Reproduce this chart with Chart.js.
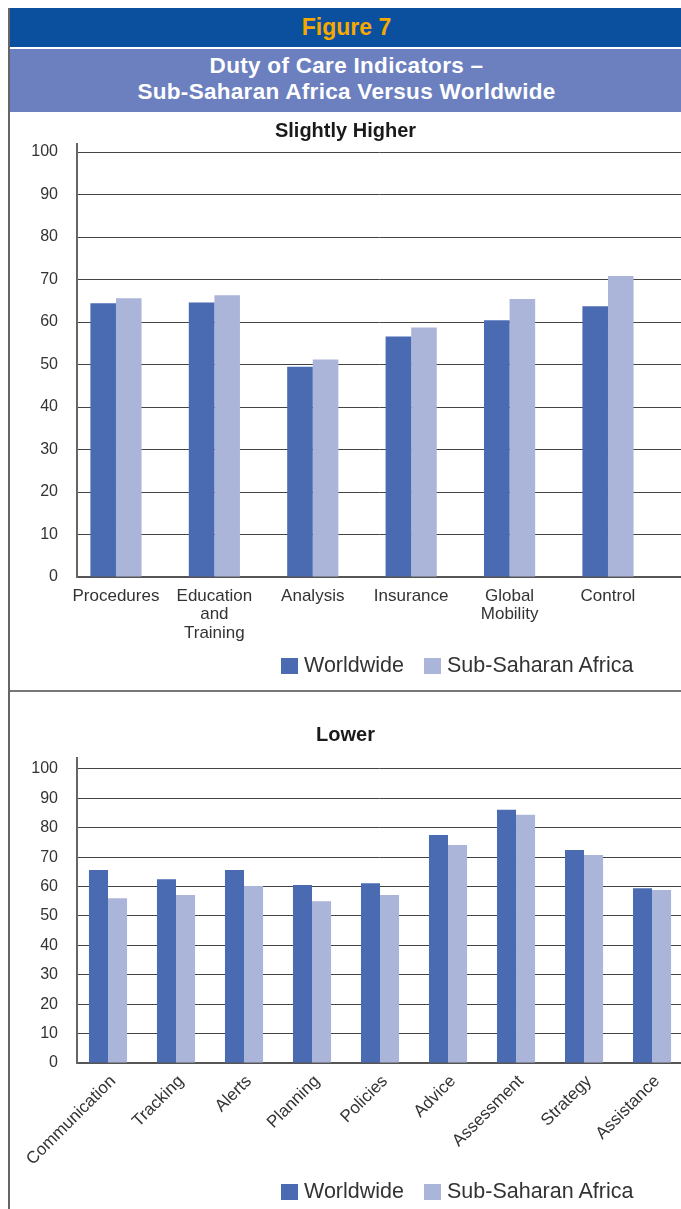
<!DOCTYPE html>
<html>
<head>
<meta charset="utf-8">
<title>Figure 7</title>
<script src="https://cdn.jsdelivr.net/npm/chart.js"></script>
<style>
  body { margin: 0; width: 681px; height: 1209px; position: relative; background: #fff; overflow: hidden;
         font-family: "Liberation Sans", Arial, sans-serif; }
  #fig { position: absolute; left: 8px; top: 8px; width: 673px; height: 39px; background: #0a509e;
         color: #f6a800; font-weight: bold; font-size: 23px; text-align: center; line-height: 38px; padding-left: 4px; box-sizing: border-box; }
  #sub { position: absolute; left: 8px; top: 49px; width: 673px; height: 63px; background: #6c80bf;
         color: #fff; font-weight: bold; font-size: 22.5px; text-align: center; line-height: 26px;
         padding-top: 4px; padding-left: 4px; box-sizing: border-box; letter-spacing: 0.3px; }
  #frame { position: absolute; left: 8px; top: 8px; width: 2px; height: 1201px; background: #666; }
  #sep { position: absolute; left: 8px; top: 690px; width: 673px; height: 2px; background: #777; }
  .box { position: absolute; left: 10px; width: 671px; }
  #boxA { top: 112px; height: 578px; }
  #boxB { top: 692px; height: 517px; }
  .legend { position: absolute; left: 281px; display: flex; align-items: center; font-size: 21.5px; color: #333; }
  .legend .sw { display: inline-block; width: 17px; height: 16px; margin-right: 6px; }
  .legend .item { display: flex; align-items: center; margin-right: 20px; }
</style>
</head>
<body>
<div id="fig">Figure 7</div>
<div id="sub">Duty of Care Indicators –<br>Sub-Saharan Africa Versus Worldwide</div>

<div class="box" id="boxA"><canvas id="chartA" width="671" height="578"></canvas></div>
<div class="box" id="boxB"><canvas id="chartB" width="671" height="517"></canvas></div>

<div class="legend" id="legendA" style="top:653px"></div>
<div class="legend" id="legendB" style="top:1179px"></div>

<div id="sep"></div>
<div id="frame"></div>

<script>
// series names and colours
const seriesNames = ['Worldwide', 'Sub-Saharan Africa'];
const seriesColors = ['#4a6bb2', '#abb5da'];

// y axis ticks (same for both panels)
const yTicks = [0, 10, 20, 30, 40, 50, 60, 70, 80, 90, 100];

// "Slightly Higher" panel
const higherCategories = ['Procedures', ['Education', 'and', 'Training'], 'Analysis', 'Insurance', ['Global', 'Mobility'], 'Control'];
const higherWorldwide = [64.4, 64.6, 49.5, 56.6, 60.4, 63.7];
const higherSubSaharan = [65.6, 66.3, 51.2, 58.7, 65.4, 70.8];

// "Lower" panel
const lowerCategories = ['Communication', 'Tracking', 'Alerts', 'Planning', 'Policies', 'Advice', 'Assessment', 'Strategy', 'Assistance'];
const lowerWorldwide = [65.6, 62.5, 65.6, 60.5, 61.1, 77.5, 86.1, 72.4, 59.4];
const lowerSubSaharan = [56.0, 57.1, 60.2, 55.0, 57.1, 74.1, 84.4, 70.7, 58.8];

Chart.defaults.font.family = '"Liberation Sans", Arial, sans-serif';
Chart.defaults.color = '#333';

function makeChart(id, cfg) {
    const ctx = document.getElementById(id).getContext('2d');
    const toPoints = values => values.map((v, i) => ({ x: i, y: v }));
    return new Chart(ctx, {
        type: 'bar',
        data: {
            datasets: [
                { label: seriesNames[0], data: toPoints(cfg.worldwide), backgroundColor: seriesColors[0] },
                { label: seriesNames[1], data: toPoints(cfg.subSaharan), backgroundColor: seriesColors[1] }
            ]
        },
        options: {
            responsive: false,
            animation: false,
            barPercentage: 1,
            categoryPercentage: cfg.catPct,
            layout: { padding: 0 },
            plugins: {
                legend: { display: false },
                tooltip: { enabled: false },
                title: {
                    display: true,
                    text: cfg.title,
                    color: '#1a1a1a',
                    font: { size: 20, weight: 'bold', lineHeight: 1.2 },
                    padding: cfg.titlePadding
                }
            },
            scales: {
                x: {
                    type: 'linear',
                    offset: false,
                    min: cfg.xMin,
                    max: cfg.xMax,
                    afterBuildTicks: scale => { scale.ticks = cfg.categories.map((c, i) => ({ value: i })); },
                    afterFit: scale => { scale.height = cfg.xHeight; },
                    grid: { display: false, offset: false },
                    border: { display: true, color: '#555', width: 2 },
                    ticks: {
                        autoSkip: false,
                        padding: cfg.xPad,
                        labelOffset: cfg.labelOffset,
                        minRotation: cfg.rotation,
                        maxRotation: cfg.rotation,
                        font: { size: 17, lineHeight: 1.09 },
                        callback: v => cfg.categories[v]
                    }
                },
                y: {
                    min: 0,
                    max: cfg.yMax,
                    afterBuildTicks: scale => { scale.ticks = yTicks.map(v => ({ value: v })); },
                    afterFit: scale => { scale.width = 67; },
                    grid: { color: '#444', lineWidth: 1, drawTicks: false },
                    border: { display: true, color: '#666', width: 2 },
                    ticks: { padding: 19, font: { size: 16 } }
                }
            }
        }
    });
}

function makeLegend(id) {
    const el = document.getElementById(id);
    seriesNames.forEach((name, i) => {
        const item = document.createElement('span');
        item.className = 'item';
        item.innerHTML = `<span class="sw" style="background:${seriesColors[i]}"></span>${name}`;
        el.appendChild(item);
    });
}

makeChart('chartA', {
    title: 'Slightly Higher',
    categories: higherCategories,
    worldwide: higherWorldwide,
    subSaharan: higherSubSaharan,
    xMin: -0.396, xMax: 5.742,
    yMax: 102,
    catPct: 0.52,
    titlePadding: { top: 7, bottom: 0.5 },
    xHeight: 113,
    xPad: 2,
    labelOffset: 0,
    rotation: 0
});

makeChart('chartB', {
    title: 'Lower',
    categories: lowerCategories,
    worldwide: lowerWorldwide,
    subSaharan: lowerSubSaharan,
    xMin: -0.456, xMax: 8.426,
    yMax: 103.7,
    catPct: 0.56,
    titlePadding: { top: 31, bottom: 11 },
    xHeight: 146,
    xPad: 1,
    labelOffset: 5,
    rotation: 45
});

makeLegend('legendA');
makeLegend('legendB');
</script>
</body>
</html>
